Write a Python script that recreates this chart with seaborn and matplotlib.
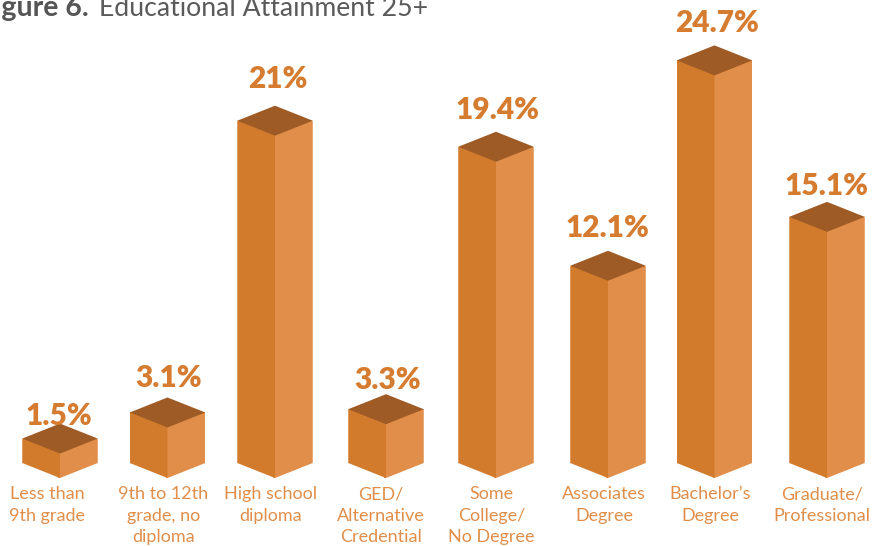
import matplotlib
matplotlib.use("Agg")
import matplotlib.pyplot as plt
from matplotlib.patches import Polygon
from matplotlib.transforms import ScaledTranslation
import pandas as pd
import seaborn as sns

categories = ["Less than\n9th grade", "9th to 12th\ngrade, no\ndiploma", "High school\ndiploma",
              "GED/\nAlternative\nCredential", "Some\nCollege/\nNo Degree", "Associates\nDegree",
              "Bachelor\u2019s\nDegree", "Graduate/\nProfessional"]
values = [1.5, 3.1, 21, 3.3, 19.4, 12.1, 24.7, 15.1]
value_labels = ["1.5%", "3.1%", "21%", "3.3%", "19.4%", "12.1%", "24.7%", "15.1%"]

W, H, DPI = 872, 546, 100
LEFT, RIGHT, TOP = "#D27B2D", "#E08E4A", "#9E5B25"
TEXT = "#D67C30"
PX_PER_UNIT = 16.3
PX_PER_CAT = 109.7
X0_PX = 58.5
BASE_PX = 463
DEPTH = 15 / PX_PER_UNIT
BAR_WIDTH = 75.5 / PX_PER_CAT
OVERLAP = 2 / PX_PER_CAT
label_gap_px = [-1.4, 10.5, 17.7, 5, 12.8, 13.8, 13.4, 6.9]
tick_nudge_px = [-11.5, -5, -7, -6.5, -6, -3, -6.5, -4.5]
bar_nudge_px = [1.5, -0.7, -2.9, -1.6, -1.3, 1, -2.2, 0.6]

sns.set_theme(style="white")
plt.rcParams["font.family"] = ["Lato", "DejaVu Sans"]

fig = plt.figure(figsize=(W / DPI, H / DPI), dpi=DPI)
bottom_px = BASE_PX + 15
ax = fig.add_axes([0, 1 - bottom_px / H, 1, bottom_px / H])
ax.patch.set_alpha(0)

df = pd.DataFrame({
    "category": categories * 2,
    "value": values * 2,
    "face": ["left"] * len(values) + ["right"] * len(values),
})
sns.barplot(data=df, x="category", y="value", hue="face", order=categories,
            palette={"left": LEFT, "right": RIGHT}, width=BAR_WIDTH, gap=0,
            dodge=True, saturation=1, legend=False, linewidth=0, errorbar=None, ax=ax)

ax.set_xlim(-X0_PX / PX_PER_CAT, (W - X0_PX) / PX_PER_CAT)
ax.set_ylim(-DEPTH, BASE_PX / PX_PER_UNIT)

half = BAR_WIDTH / 2
for patch in list(ax.patches):
    x, w, v = patch.get_x(), patch.get_width(), patch.get_height()
    is_left = patch.get_facecolor()[:3] == matplotlib.colors.to_rgb(LEFT)
    idx = int(round(x + (w if is_left else 0)))
    x += bar_nudge_px[idx] / PX_PER_CAT
    patch.set_y(-DEPTH)
    patch.set_height(v + DEPTH)
    if is_left:
        patch.set_x(x)
        patch.set_zorder(3)
        pts = [(x, 0), (x + w, -DEPTH), (x + w, v + DEPTH), (x, v + DEPTH)]
    else:
        # the right face runs slightly under the left one, so no seam shows between them
        patch.set_x(x - OVERLAP)
        patch.set_width(w + OVERLAP)
        patch.set_zorder(2)
        pts = [(x - OVERLAP, -DEPTH), (x, -DEPTH), (x + w, 0), (x + w, v + DEPTH), (x - OVERLAP, v + DEPTH)]
    patch.set_clip_path(Polygon(pts, transform=ax.transData))

for i, (v, lab, gap, nudge) in enumerate(zip(values, value_labels, label_gap_px, bar_nudge_px)):
    c = i + nudge / PX_PER_CAT
    ax.add_patch(Polygon([(c - half, v), (c, v + DEPTH), (c + half, v), (c, v - DEPTH)],
                         closed=True, facecolor=TOP, edgecolor="none", zorder=5))
    ax.annotate(lab, xy=(i, v + DEPTH), xytext=(0, gap * 72 / DPI), textcoords="offset points",
                ha="center", va="baseline", fontsize=21.5, fontweight="heavy", color=TEXT,
                annotation_clip=False, zorder=6)

sns.despine(ax=ax, left=True, bottom=True)
ax.set(xlabel="", ylabel="", yticks=[])
ax.grid(False)
ax.tick_params(axis="x", length=0, pad=6)
ax.set_xticks(range(len(categories)))
ax.set_xticklabels(categories, fontsize=13, color=RIGHT, fontweight="normal", linespacing=1.42)
for lab, nudge in zip(ax.get_xticklabels(), tick_nudge_px):
    lab.set_transform(lab.get_transform() + ScaledTranslation(nudge / DPI, 0, fig.dpi_scale_trans))

fig.text(89 / W, 1 - 16 / H, "Figure 6.", ha="right", va="baseline", fontsize=20.5,
         fontweight="bold", color="#555555")
fig.text(99 / W, 1 - 16 / H, "Educational Attainment 25+", ha="left", va="baseline", fontsize=19.2,
         fontweight="normal", color="#5a5a5a")

fig.savefig("out.png", dpi=DPI)
